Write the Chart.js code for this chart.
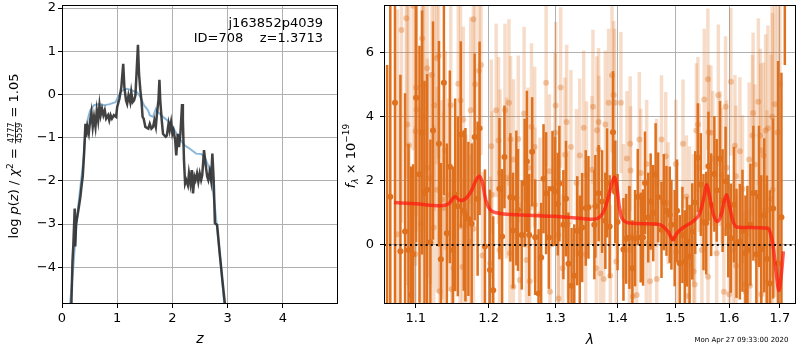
<!DOCTYPE html>
<html>
<head>
<meta charset="utf-8">
<script src="https://cdn.jsdelivr.net/npm/chart.js@4.4.0/dist/chart.umd.min.js"></script>
<style>
  body { margin: 0; background: #fff; }
  #wrap { position: relative; width: 800px; height: 350px; }
  canvas { position: absolute; left: 0; top: 0; }
</style>
</head>
<body>
<div id="wrap">
  <canvas id="pz" width="800" height="350"></canvas>
  <canvas id="spec" width="800" height="350"></canvas>
</div>
<script>
// ---------- left panel: log p(z) ----------
const zDark = [0.16, 0.17, 0.19, 0.205, 0.23, 0.24, 0.255, 0.275, 0.30, 0.333, 0.36, 0.376, 0.40, 0.424, 0.436,
  0.46, 0.485, 0.51, 0.533, 0.557, 0.58, 0.606, 0.63, 0.655, 0.679, 0.70, 0.725, 0.75, 0.775, 0.80, 0.835,
  0.857, 0.88, 0.905, 0.94, 0.98, 1.0, 1.04, 1.075, 1.109, 1.13, 1.16, 1.18, 1.205, 1.236, 1.255, 1.28,
  1.305, 1.33, 1.35, 1.376, 1.395, 1.42, 1.44, 1.46, 1.48, 1.51, 1.564, 1.59, 1.62, 1.65, 1.674, 1.70,
  1.72, 1.747, 1.765, 1.78, 1.807, 1.83, 1.855, 1.88, 1.90, 1.93, 1.95, 1.976, 2.0, 2.02, 2.05, 2.07,
  2.097, 2.12, 2.145, 2.175, 2.19, 2.21, 2.23, 2.25, 2.28, 2.30, 2.326, 2.35, 2.374, 2.40, 2.42, 2.446,
  2.47, 2.495, 2.52, 2.54, 2.573, 2.60, 2.63, 2.65, 2.676, 2.70, 2.724, 2.748, 2.77, 2.81, 2.857, 2.905,
  2.953, 2.98];
const logpDark = [-5.3, -4.87, -3.85, -3.5, -2.64, -3.52, -3.0, -2.85, -2.65, -2.37, -2.05, -1.9, -1.37, -0.68, -0.98,
  -0.75, -0.9, -0.6, -0.41, -0.75, -0.52, -0.75, -0.37, -0.6, -0.25, -0.48, -0.33, -0.48, -0.37, -0.56, -0.48,
  -0.6, -0.48, -0.56, -0.48, -0.52, -0.29, -0.1, 0.17, 0.71, 0.17, -0.14, -0.22, -0.02, -0.18, 0.05, -0.18,
  -0.14, -0.02, 0.48, 1.15, 0.48, 0.09, -0.14, -0.52, -0.56, -0.75, -0.79, -0.68, -0.79, -0.75, -0.6, -0.75,
  -0.45, -0.14, 0.34, -0.14, -0.6, -0.91, -0.95, -0.98, -0.95, -0.68, -0.83, -0.64, -0.91, -0.83, -1.06, -1.41,
  -0.91, -1.22, -0.91, -0.22, -0.6, -1.52, -2.06, -1.98, -2.1, -1.83, -2.06, -1.75, -2.29, -1.9, -1.98, -1.83,
  -2.02, -1.83, -1.98, -1.87, -1.29, -1.6, -1.9, -1.98, -1.79, -1.98, -1.37, -1.98, -2.98, -3.02, -3.68, -4.29,
  -4.87, -5.3];

const zBlue = [0.13, 0.145, 0.206, 0.267, 0.333, 0.388, 0.424, 0.46, 0.51, 0.58, 0.667, 0.757, 0.848, 0.97,
  1.03, 1.09, 1.18, 1.27, 1.36, 1.42, 1.485, 1.56, 1.59, 1.65, 1.70, 1.74, 1.83, 1.95, 2.04, 2.13, 2.22,
  2.31, 2.43, 2.52, 2.585, 2.66, 2.72, 2.77, 2.82, 2.88, 2.94, 2.97];
const logpBlue = [-5.3, -4.87, -3.98, -2.9, -2.14, -1.52, -0.91, -0.6, -0.37, -0.25, -0.22, -0.25, -0.23, -0.18,
  -0.02, 0.09, 0.13, 0.09, 0.05, -0.06, -0.25, -0.37, -0.48, -0.52, -0.33, -0.41, -0.52, -0.64, -0.83, -1.02, -1.18,
  -1.25, -1.37, -1.38, -1.45, -1.68, -2.06, -2.6, -3.22, -3.98, -4.87, -5.3];

const zTicks = [0, 1, 2, 3, 4];
const logpTicks = [-4, -3, -2, -1, 0, 1, 2];

// ---------- right panel: spectrum ----------
const lamDark = [1.063, 1.067, 1.073, 1.080, 1.086, 1.0905, 1.0939, 1.0965, 1.1004, 1.1049, 1.1083, 1.1115,
  1.1150, 1.1194, 1.1229, 1.1309, 1.1335, 1.1376, 1.1416, 1.1457, 1.1498, 1.1530, 1.1567, 1.1608, 1.1649,
  1.1673, 1.1714, 1.1760, 1.1802, 1.1844, 1.1872, 1.1948, 1.2020, 1.2067, 1.2157, 1.2196, 1.2230, 1.2317,
  1.2357, 1.2405, 1.2430, 1.2485, 1.2529, 1.2563, 1.2597, 1.2642, 1.2688, 1.2739, 1.2779, 1.2815, 1.2855,
  1.2896, 1.2953, 1.2993, 1.3035, 1.3060, 1.3123, 1.3164, 1.3202, 1.3252, 1.3295, 1.3342, 1.3382, 1.3421,
  1.3478, 1.3522, 1.3618, 1.3634, 1.3688, 1.3744, 1.3798, 1.3826, 1.3869, 1.3925, 1.3963, 1.4001, 1.4100,
  1.4146, 1.4201, 1.4251, 1.4297, 1.4343, 1.4394, 1.4434, 1.4468, 1.4524, 1.4566, 1.4611, 1.4653, 1.4697,
  1.4756, 1.4797, 1.4844, 1.4902, 1.4932, 1.4990, 1.5032, 1.5081, 1.5130, 1.5172, 1.5211, 1.5260, 1.5309,
  1.5363, 1.5411, 1.5466, 1.5516, 1.5566, 1.5608, 1.5658, 1.5719, 1.5762, 1.5825, 1.5874, 1.5931, 1.5982,
  1.6032, 1.6090, 1.6140, 1.6205, 1.6256, 1.6314, 1.6352, 1.6411, 1.6469, 1.6528, 1.6580, 1.6625, 1.6684,
  1.6738, 1.6797, 1.6863, 1.6963, 1.7031, 1.710];
const fDark = [-3.2, 1.5, 4.43, -0.2, 0.42, -0.16, -1.56, -0.29, 4.58, 2.2, 3.5, 1.61,
  1.72, 0.08, 3.56, 3.15, -0.45, 5.05, 0.36, 2.43, -0.16, 1.56, 1.2, 3.44, 1.07,
  0.94, 0.81, 0.66, 3.36, 1.44, 3.63, -0.05, -0.78, -1.41, 1.75, 0.26, 2.74, 1.48,
  0.45, 1.46, 1.09, 0.31, 1.93, 2.6, 0.31, 2.9, 0.24, -1.51, -0.39, 2.06, 1.61,
  0.23, 1.75, 1.67, 1.27, 1.91, 0.63, 1.44, -0.59, -1.27, -0.96, 0.44, -0.26, 0.54,
  1.15, 1.17, 0.63, 1.2, 1.61, 1.35, 0.75, 1.93, 0.57, 3.51, 1.65, 0.71, -0.14,
  0.19, 0.23, -0.73, 0.21, 1.49, 0.23, 0.23, 1.93, 0.85, 1.35, 0.99, 2.19, 1.48,
  0.47, 1.33, 1.06, 0.94, 0.63, 0.21, 1.06, -0.57, 0.31, -0.52, 0.1, -0.36, 0.42,
  1.32, 2.71, 1.88, 0.71, 0.68, 2.45, 1.25, 2.21, 1.7, 2.68, 1.38, 1.98, 0.59,
  0.21, 1.25, 0.05, 0.1, 0.44, -0.26, -0.16, 0.63, 1.61, -0.29, 1.51, -0.13, 0.92,
  -0.44, -1.2, 1.13, -0.57, 0.86, 9.0];
const errDark = [8.8, 9.0, 8.0, 5.5, 4.3, 3.3, 4.0, 2.8, 4.5, 4.0, 3.8, 3.5,
  3.6, 3.2, 3.4, 3.2, 3.0, 3.5, 2.8, 3.0, 2.6, 3.0, 2.8, 2.9, 2.5,
  2.7, 2.4, 2.5, 2.6, 2.4, 2.7, 2.4, 2.5, 2.3, 2.2, 2.1, 1.6, 2.0,
  1.8, 2.1, 1.9, 1.7, 2.0, 2.2, 1.9, 1.7, 1.8, 2.0, 1.7, 1.7, 1.9,
  1.6, 1.8, 1.7, 1.6, 1.8, 1.7, 1.8, 1.6, 1.8, 1.6, 1.7, 1.8, 1.7,
  1.8, 1.6, 1.7, 1.6, 1.5, 1.6, 1.5, 1.7, 1.6, 1.9, 1.6, 1.5, 1.6,
  1.4, 1.6, 1.5, 1.5, 1.5, 1.4, 1.5, 1.6, 1.4, 1.5, 1.5, 1.6, 1.4,
  1.5, 1.5, 1.4, 1.5, 1.4, 1.5, 1.6, 1.5, 1.5, 1.6, 1.4, 1.6, 1.5,
  1.6, 1.7, 1.6, 1.5, 1.6, 1.7, 1.6, 1.8, 1.6, 1.8, 1.6, 1.7, 1.6,
  1.7, 1.8, 1.7, 1.8, 1.9, 1.8, 2.0, 1.9, 2.1, 2.0, 2.2, 2.3, 2.4,
  2.6, 2.9, 2.8, 6.3, 4.5, 3.4];

const lamLight = [1.0761, 1.0813, 1.0876, 1.0889, 1.0911, 1.0965, 1.0992, 1.0997, 1.1004, 1.1009, 1.1071,
  1.1083, 1.1097, 1.1106, 1.1150, 1.1152, 1.1194, 1.1216, 1.1238, 1.1247, 1.1282, 1.1285, 1.1305, 1.1318,
  1.1349, 1.1371, 1.1394, 1.1439, 1.1470, 1.1484, 1.1507, 1.1574, 1.1598, 1.1605, 1.1633, 1.1643, 1.1680,
  1.1738, 1.1746, 1.1784, 1.1786, 1.1808, 1.1864, 1.1892, 1.1914, 1.2025, 1.2039, 1.2049, 1.2110, 1.2144,
  1.2158, 1.2166, 1.2238, 1.2262, 1.2296, 1.2310, 1.2320, 1.2360, 1.2364, 1.2434, 1.2457, 1.2521, 1.2557,
  1.2581, 1.2605, 1.2632, 1.2680, 1.2684, 1.2760, 1.2855, 1.2905, 1.2915, 1.2993, 1.3002, 1.3044, 1.3048,
  1.3080, 1.3112, 1.3148, 1.3174, 1.3200, 1.3241, 1.3330, 1.3382, 1.3446, 1.3478, 1.3490, 1.3580, 1.3595,
  1.3650, 1.3660, 1.3687, 1.3690, 1.3716, 1.3770, 1.3798, 1.3852, 1.3880, 1.3908, 1.3935, 1.3951, 1.3980,
  1.4057, 1.4100, 1.4158, 1.4201, 1.4213, 1.4220, 1.4258, 1.4325, 1.4370, 1.4394, 1.4490, 1.4497, 1.4554,
  1.4670, 1.4672, 1.4756, 1.4831, 1.4872, 1.5010, 1.5022, 1.5140, 1.5201, 1.5230, 1.5260, 1.5333, 1.5335,
  1.5353, 1.5384, 1.5413, 1.5435, 1.5486, 1.5530, 1.5597, 1.5600, 1.5610, 1.5653, 1.5690, 1.5762, 1.5793,
  1.5825, 1.5855, 1.5899, 1.5931, 1.5950, 1.6000, 1.6032, 1.6077, 1.6110, 1.6129, 1.6130, 1.6206, 1.6256,
  1.6303, 1.6322, 1.6386, 1.6400, 1.6451, 1.6464, 1.6497, 1.6547, 1.6567, 1.6606, 1.6616, 1.6625, 1.6672,
  1.6711, 1.6724, 1.6738, 1.6758, 1.6822, 1.6842, 1.6852, 1.6896, 1.695, 1.700];
const fLight = [0.33, 6.69, 7.06, 3.75, 3.1, 7.45, -0.29, 3.54, 4.9, 4.22, 0.65,
  6.43, 4.97, 3.94, 5.5, 2.4, 2.08, 5.29, 0.54, 4.35, 5.81, 1.72, 5.89, -1.44,
  1.41, 1.15, 2.94, 1.56, 4.35, -1.38, -0.73, 5.02, 0.57, 4.5, -0.69, 3.9, 0.63,
  0.1, 4.19, 7.03, 0.5, 5.0, 5.42, 5.6, -0.33, -0.57, 3.07, 1.56, 4.19, 3.25,
  -0.16, 2.24, 4.19, 2.08, 4.43, -0.26, 3.28, -1.3, 2.66, 3.3, -1.09, 4.09, -0.47,
  2.4, -1.13, 3.68, 3.05, 1.25, 0.94, 5.05, 2.29, -1.46, 3.49, 4.34, 0.31, -1.67,
  4.9, -0.73, 2.81, 3.83, 0.63, 3.05, 1.93, 2.78, 3.65, -0.29, 2.17, 2.34, 4.3,
  -0.73, 3.57, 3.83, 2.97, -0.89, -1.06, 3.75, 4.43, -0.96, 5.28, 4.67, 4.43, -0.52,
  4.43, 1.04, 2.69, -0.16, 3.15, 2.32, -1.61, -1.56, 3.28, 2.24, 0.05, 2.52, -1.13,
  1.93, -1.06, 3.28, 2.76, 1.3, 2.52, -0.21, 3.15, 1.51, -1.59, 1.17, 0.83, -0.83,
  -1.23, 3.56, 3.75, 2.4, -0.16, 4.53, 5.16, -0.99, 3.51, 3.49, 2.69, -0.26, 4.66,
  2.69, 2.16, -1.46, 4.3, 2.4, -1.54, 5.08, -0.16, 3.09, 2.14, -0.65, 2.92, 1.74,
  -1.23, -1.46, 2.66, -1.27, 3.41, 4.11, 2.5, -0.52, 4.46, 3.41, 2.95, -1.54, 2.78,
  3.56, -1.15, 1.09, 3.63, 1.43, 3.99, 1.72, 4.38, 3.5, 5.0];
const errLight = [7.0, 6.0, 5.0, 5.0, 4.5, 4.5, 4.0, 4.2, 4.0, 3.8, 3.6,
  3.8, 3.6, 3.5, 3.5, 3.4, 3.3, 3.4, 3.2, 3.3, 3.3, 3.2, 3.2, 3.0,
  3.1, 3.0, 3.1, 3.0, 3.1, 2.9, 2.9, 3.0, 2.8, 3.0, 2.8, 2.9, 2.8,
  2.7, 2.9, 2.9, 2.7, 2.8, 2.8, 2.8, 2.6, 2.7, 2.7, 2.6, 2.7, 2.6,
  2.5, 2.6, 2.7, 2.5, 2.6, 2.5, 2.6, 2.4, 2.5, 2.6, 2.4, 2.7, 2.4,
  2.5, 2.4, 2.6, 2.5, 2.4, 2.4, 2.6, 2.4, 2.3, 2.5, 2.6, 2.3, 2.3,
  2.5, 2.3, 2.4, 2.4, 2.3, 2.4, 2.3, 2.4, 2.4, 2.2, 2.3, 2.3, 2.4,
  2.2, 2.3, 2.3, 2.3, 2.2, 2.2, 2.3, 2.3, 2.2, 2.4, 2.3, 2.3, 2.2,
  2.2, 2.1, 2.1, 2.0, 2.1, 2.0, 2.0, 2.0, 2.1, 2.0, 2.0, 2.0, 2.0,
  2.0, 1.9, 2.0, 2.0, 1.9, 2.0, 1.9, 2.0, 1.9, 1.9, 1.9, 2.0, 2.0,
  2.0, 2.1, 2.1, 2.0, 2.0, 2.2, 2.2, 2.0, 2.1, 2.1, 2.1, 2.0, 2.2,
  2.1, 2.1, 2.0, 2.2, 2.1, 2.1, 2.3, 2.1, 2.2, 2.2, 2.2, 2.3, 2.3,
  2.3, 2.3, 2.4, 2.4, 2.5, 2.5, 2.5, 2.5, 2.6, 2.7, 2.7, 2.7, 2.9,
  3.0, 3.0, 3.1, 3.2, 4.5, 5.0, 5.5, 6.0, 7.0, 8.0];

const lamModel = [1.072, 1.10, 1.133, 1.144, 1.153, 1.160, 1.168, 1.176, 1.183, 1.187, 1.191, 1.196,
  1.2025, 1.212, 1.222, 1.26, 1.297, 1.349, 1.3555, 1.366, 1.377, 1.385, 1.391, 1.395, 1.399, 1.403,
  1.4073, 1.421, 1.45, 1.4727, 1.487, 1.496, 1.503, 1.515, 1.532, 1.545, 1.552, 1.5576, 1.563, 1.570,
  1.5775, 1.585, 1.591, 1.595, 1.600, 1.607, 1.614, 1.64, 1.676, 1.682, 1.686, 1.692, 1.698, 1.703, 1.707];
const fModel = [1.32, 1.28, 1.22, 1.28, 1.5, 1.38, 1.45, 1.7, 2.05, 2.14, 1.95, 1.4,
  1.09, 1.0, 0.96, 0.92, 0.89, 0.81, 0.8, 0.82, 1.04, 1.5, 1.95, 2.11, 1.8, 1.2,
  0.83, 0.68, 0.66, 0.63, 0.42, 0.16, 0.36, 0.55, 0.73, 1.0, 1.45, 1.87, 1.5, 0.95,
  0.73, 0.95, 1.4, 1.56, 1.25, 0.75, 0.56, 0.54, 0.52, 0.3, 0.0, -0.8, -1.42, -0.9, -0.2];

const lamRange = [1.059, 1.733];
const zeroLevel = [0, 0];
const lamTicks = [1.1, 1.2, 1.3, 1.4, 1.5, 1.6, 1.7];
const fTicks = [0, 2, 4, 6];

const ORANGE = 'rgb(222,112,30)';
const FONT = 'DejaVu Sans';

Chart.defaults.font.family = FONT;
Chart.defaults.font.size = 13;
Chart.defaults.color = '#000';

function toXY(xs, ys) {
  return xs.map((x, i) => ({ x: x, y: ys[i] }));
}

function minusLabel(v) {
  return v < 0 ? '\u2212' + Math.abs(v) : String(v);
}

// draws a row of text pieces centred on (cx, cy); rotated for y-axis labels
function richText(ctx, parts, cx, cy, rotate) {
  ctx.save();
  ctx.translate(cx, cy);
  if (rotate) ctx.rotate(-Math.PI / 2);
  ctx.fillStyle = '#000';
  ctx.textBaseline = 'alphabetic';
  let total = 0;
  parts.forEach(p => {
    ctx.font = p.font;
    p.w = p.frac ? Math.max(ctx.measureText(p.t).width, ctx.measureText(p.b).width) + 2
                 : ctx.measureText(p.t).width;
    total += p.w;
  });
  let x = -total / 2;
  const base = 4.8;
  parts.forEach(p => {
    ctx.font = p.font;
    if (p.frac) {
      ctx.textAlign = 'center';
      ctx.fillText(p.t, x + p.w / 2, base - 3.6);
      ctx.fillText(p.b, x + p.w / 2, base + 4.6);
      ctx.fillRect(x + 0.5, base - 2.8, p.w - 1, 0.8);
      ctx.textAlign = 'left';
    } else {
      ctx.textAlign = 'left';
      ctx.fillText(p.t, x, base + (p.dy || 0));
    }
    x += p.w;
  });
  ctx.restore();
}

function frameBox(chart) {
  const a = chart.chartArea, ctx = chart.ctx;
  ctx.save();
  ctx.strokeStyle = '#000';
  ctx.lineWidth = 1;
  ctx.strokeRect(Math.round(a.left) + 0.5, Math.round(a.top) + 0.5,
    Math.round(a.right - a.left) - 1, Math.round(a.bottom - a.top) - 1);
  ctx.restore();
}

const pzText = {
  id: 'pzText',
  afterDraw(chart) {
    frameBox(chart);
    const ctx = chart.ctx;
    const n = '13px ' + FONT, it = 'italic 13px ' + FONT, sm = '8px ' + FONT, sup = '9px ' + FONT;
    richText(ctx, [
      { t: 'log ', font: n }, { t: 'p', font: it }, { t: '(', font: n }, { t: 'z', font: it },
      { t: ') / ', font: n }, { t: '\u03c7', font: it }, { t: '2', font: sup, dy: -5 },
      { t: ' = ', font: n }, { frac: true, t: '4777', b: '4559', font: sm }, { t: ' = 1.05', font: n }
    ], 13, 156, true);
    ctx.save();
    ctx.fillStyle = '#000';
    ctx.font = '13px ' + FONT;
    ctx.textAlign = 'right';
    ctx.fillText('j163852p4039', 323, 27);
    ctx.fillText('ID=708    z=1.3713', 323, 42);
    ctx.font = 'italic 14px ' + FONT;
    ctx.textAlign = 'center';
    ctx.fillText('z', (chart.chartArea.left + chart.chartArea.right) / 2, 343);
    ctx.restore();
  }
};

const specText = {
  id: 'specText',
  afterDraw(chart) {
    frameBox(chart);
    const ctx = chart.ctx;
    const n = '13px ' + FONT, it = 'italic 13px ' + FONT, sup = '9px ' + FONT;
    richText(ctx, [
      { t: 'f', font: it }, { t: '\u03bb', font: 'italic 9px ' + FONT, dy: 3 },
      { t: ' \u00d7 10', font: n }, { t: '\u221219', font: sup, dy: -5.5 }
    ], 350, 156, true);
    ctx.save();
    ctx.fillStyle = '#000';
    ctx.font = 'italic 14px ' + FONT;
    ctx.textAlign = 'center';
    ctx.fillText('\u03bb', (chart.chartArea.left + chart.chartArea.right) / 2, 344);
    ctx.font = '7px ' + FONT;
    ctx.fillText('Mon Apr 27 09:33:00 2020', 741.5, 342);
    ctx.restore();
  }
};

// vertical error bars, drawn just before each dataset's own points
const errorBars = {
  id: 'errorBars',
  beforeDatasetDraw(chart, args) {
    const ds = chart.data.datasets[args.index];
    if (!ds.errors) return;
    const ctx = chart.ctx, a = chart.chartArea;
    const xs = chart.scales.x, ys = chart.scales.y;
    ctx.save();
    ctx.beginPath();
    ctx.rect(a.left, a.top, a.right - a.left, a.bottom - a.top);
    ctx.clip();
    ctx.strokeStyle = ds.errorColor;
    ctx.lineWidth = ds.errorWidth;
    ctx.lineCap = 'butt';
    ds.data.forEach((p, i) => {
      const px = xs.getPixelForValue(p.x);
      ctx.beginPath();
      ctx.moveTo(px, ys.getPixelForValue(p.y - ds.errors[i]));
      ctx.lineTo(px, ys.getPixelForValue(p.y + ds.errors[i]));
      ctx.stroke();
    });
    ctx.restore();
  }
};

function gridOpts() {
  return { color: '#b0b0b0', lineWidth: 1, tickColor: '#000', tickLength: 4, drawTicks: true };
}

new Chart(document.getElementById('pz'), {
  type: 'line',
  data: {
    datasets: [
      { data: toXY(zDark, logpDark), borderColor: 'rgba(45,45,45,0.9)', borderWidth: 2.5,
        pointRadius: 0, tension: 0, order: 1 },
      { data: toXY(zBlue, logpBlue), borderColor: 'rgba(120,172,210,0.85)', borderWidth: 2,
        pointRadius: 0, tension: 0, order: 2 }
    ]
  },
  options: {
    responsive: false,
    animation: false,
    devicePixelRatio: 1,
    layout: { padding: { left: 0, top: 5, right: 462, bottom: 0 } },
    plugins: { legend: { display: false }, tooltip: { enabled: false } },
    scales: {
      x: {
        type: 'linear', min: 0, max: 5,
        grid: gridOpts(), border: { display: false },
        ticks: { padding: 3, maxRotation: 0, callback: minusLabel },
        afterBuildTicks: s => { s.ticks = zTicks.map(v => ({ value: v })); },
        afterFit: s => { s.height = 46; s.paddingLeft = 0; s.paddingRight = 0; }
      },
      y: {
        min: -4.85, max: 2.07,
        grid: gridOpts(), border: { display: false },
        ticks: { padding: 2, callback: minusLabel },
        afterBuildTicks: s => { s.ticks = logpTicks.map(v => ({ value: v })); },
        afterFit: s => { s.width = 62; s.paddingTop = 0; s.paddingBottom = 0; }
      }
    }
  },
  plugins: [pzText]
});

new Chart(document.getElementById('spec'), {
  type: 'scatter',
  data: {
    datasets: [
      { type: 'line', data: toXY(lamRange, zeroLevel), borderColor: '#111', borderWidth: 2,
        borderDash: [2, 3.2], pointRadius: 0, order: 0 },
      { type: 'line', data: toXY(lamModel, fModel), borderColor: 'rgba(255,25,15,0.72)', borderWidth: 3.5,
        pointRadius: 0, cubicInterpolationMode: 'monotone', order: 1 },
      { data: toXY(lamDark, fDark), errors: errDark, errorColor: ORANGE, errorWidth: 2.5,
        pointRadius: 3, pointBorderWidth: 0, backgroundColor: ORANGE, order: 2 },
      { data: toXY(lamLight, fLight), errors: errLight, errorColor: 'rgba(222,112,30,0.24)', errorWidth: 3.5,
        pointRadius: 3, pointBorderWidth: 0, backgroundColor: 'rgba(222,112,30,0.36)', order: 3 }
    ]
  },
  options: {
    responsive: false,
    animation: false,
    devicePixelRatio: 1,
    layout: { padding: { left: 0, top: 5, right: 1, bottom: 0 } },
    plugins: { legend: { display: false }, tooltip: { enabled: false } },
    scales: {
      x: {
        type: 'logarithmic', min: lamRange[0], max: lamRange[1],
        grid: gridOpts(), border: { display: false },
        ticks: { padding: 3, maxRotation: 0, autoSkip: false, callback: v => Number(v).toFixed(1) },
        afterBuildTicks: s => { s.ticks = lamTicks.map(v => ({ value: v })); },
        afterFit: s => { s.height = 46; s.paddingLeft = 0; s.paddingRight = 0; }
      },
      y: {
        min: -1.84, max: 7.47,
        grid: gridOpts(), border: { display: false },
        ticks: { padding: 6, callback: minusLabel },
        afterBuildTicks: s => { s.ticks = fTicks.map(v => ({ value: v })); },
        afterFit: s => { s.width = 384; s.paddingTop = 0; s.paddingBottom = 0; }
      }
    }
  },
  plugins: [errorBars, specText]
});
</script>
</body>
</html>
